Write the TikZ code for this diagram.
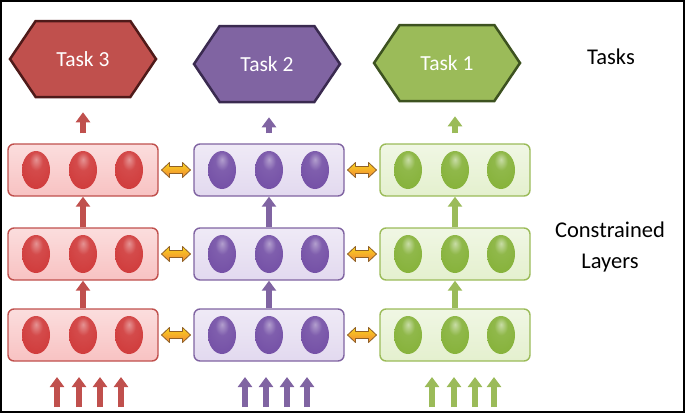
\documentclass[tikz,border=0pt]{standalone}
\usepackage{fontspec}
\setmainfont{Carlito}
\usetikzlibrary{shapes.symbols,shapes.geometric,arrows.meta,calc}
\definecolor{rd}{HTML}{C0504D}
\definecolor{rdd}{HTML}{4F1A19}
\definecolor{pp}{HTML}{8064A2}
\definecolor{ppd}{HTML}{3A2A50}
\definecolor{gn}{HTML}{9BBB59}
\definecolor{gnd}{HTML}{3D5220}
\definecolor{rdl}{HTML}{F8C2C2}
\definecolor{ppl}{HTML}{E2D9EF}
\definecolor{gnl}{HTML}{E4F0CE}
\definecolor{rdb}{HTML}{D03B3B}
\definecolor{ppb}{HTML}{7450A6}
\definecolor{gnb}{HTML}{86B23A}
\definecolor{orng}{HTML}{F0A040}
\pgfdeclareradialshading{ballr}{\pgfpoint{0bp}{14bp}}{color(0bp)=(rdb!55!white); color(12bp)=(rdb!92!white); color(34bp)=(rdb); color(52bp)=(rdb!75!black); color(70bp)=(rdb!45!black)}
\pgfdeclareradialshading{ballp}{\pgfpoint{0bp}{14bp}}{color(0bp)=(ppb!55!white); color(12bp)=(ppb!92!white); color(34bp)=(ppb); color(52bp)=(ppb!75!black); color(70bp)=(ppb!45!black)}
\pgfdeclareradialshading{ballg}{\pgfpoint{0bp}{14bp}}{color(0bp)=(gnb!45!white); color(12bp)=(gnb!92!white); color(34bp)=(gnb); color(52bp)=(gnb!75!black); color(70bp)=(gnb!45!black)}
\begin{document}
\begin{tikzpicture}[x=1pt,y=-1pt,
  hex/.style={signal, signal to=east and west, signal pointer angle=112,
     minimum width=146pt, minimum height=76pt, line width=2.5pt,
     text=white, font=\fontsize{21.5}{25}\selectfont, inner sep=0pt},
  layer/.style={rounded corners=6pt, minimum width=150pt, minimum height=52pt, line width=1.4pt, inner sep=0pt},
  neuron/.style={ellipse, minimum width=28pt, minimum height=38pt, inner sep=0pt},
  darrp/.style={draw=orng!60!black, line width=0.8pt, line join=round, top color=orng!45!yellow, bottom color=orng!85!red},
  uparr/.style={line width=6pt, -{Triangle[length=10pt,width=14pt]}},
  lbl/.style={font=\fontsize{22.5}{27}\selectfont}
]
\useasboundingbox (0,0) rectangle (685,413);
\draw[line width=2pt] (1,1) rectangle (684,412);

% hexagons
\node[hex, fill=rd, draw=rdd] (t3) at (83,59) {Task 3};
\node[hex, fill=pp, draw=ppd] (t2) at (267,64) {Task 2};
\node[hex, fill=gn, draw=gnd] (t1) at (447,63) {Task 1};

% layers
\foreach \c/\x/\lc/\dc in {r/83/rdl/rd, p/269/ppl/pp, g/455/gnl/gn} {
  \foreach \r/\y in {1/170, 2/254, 3/335} {
    \node[layer, draw=\dc, top color=\lc!55!white, bottom color=\lc] (\c\r) at (\x,\y) {};
    \node[neuron, shading=ball\c] (\c\r a) at ($(\c\r)+(-47,0)$) {};
    \node[neuron, shading=ball\c] (\c\r b) at ($(\c\r)+(0,0)$) {};
    \node[neuron, shading=ball\c] (\c\r c) at ($(\c\r)+(46,0)$) {};
  }
}

% vertical arrows between layers and to tasks
\foreach \c/\dc/\t in {r/rd/t3, p/pp/t2, g/gn/t1} {
  \draw[uparr, draw=\dc, fill=\dc] (\c3.north) -- (\c2.south);
  \draw[uparr, draw=\dc, fill=\dc] (\c2.north) -- (\c1.south);
  \draw[uparr, draw=\dc, fill=\dc, shorten <=10pt, shorten >=14pt] (\c1.north) -- (\c1.north |- \t.south);
}

% double arrows between columns
\foreach \r in {1,2,3} {
  \path ($(r\r.east)!0.5!(p\r.west)$) coordinate (dA\r);
  \path ($(p\r.east)!0.5!(g\r.west)$) coordinate (dB\r);
  \foreach \m in {dA\r, dB\r} {
    \draw[darrp] ([xshift=-14.5pt]\m) -- ++(8,-7.5) -- ++(0,4) -- ++(13,0) -- ++(0,-4)
      -- ++(8,7.5) -- ++(-8,7.5) -- ++(0,-4) -- ++(-13,0) -- ++(0,4) -- cycle;
  }
}

% input arrows
\foreach \c/\dc/\xs in {r/rd/{57,79,100,121}, p/pp/{245,266,287,307}, g/gn/{432,454,475,494}} {
  \foreach \xx [count=\i] in \xs {
    \coordinate (\c in\i s) at (\xx,407);
    \coordinate (\c in\i e) at (\xx,377);
    \draw[uparr, draw=\dc, fill=\dc] (\c in\i s) -- (\c in\i e);
  }
}

% labels
\node[lbl] (tasks) at (611,57) {Tasks};
\node[lbl, align=center] (cl) at (610,247) {Constrained\\[4pt]Layers};
\end{tikzpicture}
\end{document}
